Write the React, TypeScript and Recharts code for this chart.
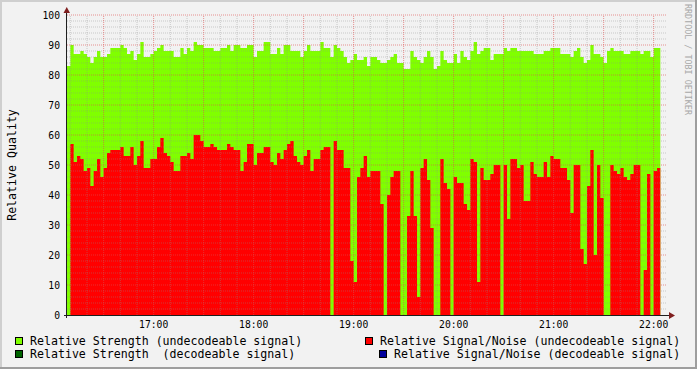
import { ComposedChart, Area, XAxis, YAxis, ReferenceLine } from 'recharts'

const MONO = '"DejaVu Sans Mono", monospace'

// one sample every 2 minutes, starting 16:08
const START_MIN = 968
const STEP_MIN = 2
const END_MIN = 1328

const STRENGTH = [
  83, 90, 87, 87, 88, 87, 86, 84, 86, 88,
  86, 86, 87, 89, 89, 89, 90, 89, 87, 88,
  85, 87, 91, 86, 86, 87, 88, 89, 90, 88,
  88, 88, 86, 86, 89, 87, 89, 88, 91, 90,
  90, 89, 89, 89, 88, 88, 89, 89, 90, 88,
  90, 90, 89, 89, 90, 90, 86, 88, 88, 91,
  91, 87, 87, 89, 87, 90, 90, 88, 88, 88,
  86, 88, 90, 88, 88, 88, 91, 89, 89, 86,
  90, 89, 88, 86, 84, 85, 87, 85, 85, 86,
  83, 86, 86, 85, 84, 84, 85, 86, 87, 84,
  84, 82, 82, 88, 86, 85, 84, 86, 88, 86,
  82, 83, 88, 85, 84, 84, 87, 84, 88, 86,
  85, 88, 91, 87, 88, 89, 89, 85, 87, 87,
  87, 89, 88, 89, 89, 88, 88, 88, 88, 88,
  87, 87, 87, 88, 88, 89, 89, 89, 87, 87,
  87, 86, 88, 89, 86, 84, 85, 90, 87, 87,
  86, 84, 88, 89, 88, 88, 88, 87, 87, 88,
  88, 88, 87, 88, 88, 86, 89, 89, 88,
]

const SNR = [
  0, 57, 51, 53, 52, 48, 49, 43, 48, 52,
  46, 49, 54, 55, 55, 55, 56, 53, 53, 56,
  50, 53, 58, 49, 49, 52, 52, 56, 59, 54,
  53, 51, 48, 48, 53, 53, 54, 52, 60, 60,
  58, 56, 56, 57, 56, 55, 55, 55, 57, 56,
  55, 55, 48, 51, 57, 57, 50, 54, 54, 56,
  56, 51, 50, 54, 52, 55, 57, 58, 53, 51,
  50, 53, 55, 48, 52, 52, 55, 56, 56, 0,
  58, 55, 55, 49, 49, 18, 11, 46, 49, 53,
  46, 48, 48, 48, 37, 0, 40, 46, 48, 48,
  0, 0, 33, 48, 33, 6, 49, 52, 45, 29,
  0, 0, 52, 44, 42, 0, 46, 44, 44, 37,
  35, 52, 51, 11, 49, 45, 45, 47, 50, 50,
  0, 50, 32, 52, 52, 49, 50, 38, 38, 51,
  47, 46, 46, 51, 46, 53, 52, 52, 49, 49,
  45, 34, 50, 50, 22, 17, 43, 55, 20, 50,
  39, 0, 0, 50, 48, 47, 49, 46, 45, 47,
  50, 50, 0, 15, 47, 0, 48, 49, 50,
]

const TIME_TICKS = [1020, 1080, 1140, 1200, 1260, 1320]
const VALUE_TICKS = [0, 10, 20, 30, 40, 50, 60, 70, 80, 90, 100]

// left column is left aligned, right column is right aligned (rrdtool \l and \r)
const LEGEND = [
  { label: 'Relative Strength (undecodeable signal)', color: '#80ff00', x: 15, y: 337 },
  { label: 'Relative Strength  (decodeable signal)', color: '#006400', x: 15, y: 350 },
  { label: 'Relative Signal/Noise (undecodeable signal)', color: '#ff0000', x: 365, y: 337 },
  { label: 'Relative Signal/Noise (decodeable signal)', color: '#00009c', x: 379, y: 350 },
]

const data = STRENGTH.map((s, i) => ({ t: START_MIN + i * STEP_MIN, strength: s, snr: SNR[i] }))

// rrdtool style grid: minor every 2 units / 10 min, major every 10 units / 30 min
const MAJOR_Y = VALUE_TICKS.filter((v) => v > 0)
const MINOR_Y = Array.from({ length: 49 }, (_, k) => 2 * k + 2).filter((v) => v % 10 !== 0)
const GRID_T = Array.from({ length: 36 }, (_, k) => 970 + 10 * k)
const MAJOR_T = GRID_T.filter((t) => t % 30 === 0)
const MINOR_T = GRID_T.filter((t) => t % 30 !== 0)

const MINOR_STYLE = { stroke: '#8f8f8f', strokeOpacity: 0.4, strokeDasharray: '1 1' }
const MAJOR_STYLE = { stroke: '#de4f4f', strokeOpacity: 0.6, strokeDasharray: '1 1' }

function fmtTime(m: number) {
  const h = Math.floor(m / 60)
  const mm = m % 60
  return `${String(h).padStart(2, '0')}:${String(mm).padStart(2, '0')}`
}

function YTick({ y, payload }: any) {
  return (
    <text x={60} y={y} dy={3.5} textAnchor="end" fontFamily={MONO} fontSize={9.7} fill="#000">
      {payload.value}
    </text>
  )
}

function XTick({ x, payload }: any) {
  return (
    <text x={x} y={328} textAnchor="middle" fontFamily={MONO} fontSize={9.7} fill="#000">
      {fmtTime(payload.value)}
    </text>
  )
}

export default function App() {
  return (
    <div
      style={{
        position: 'absolute',
        left: 0,
        top: 0,
        width: 697,
        height: 369,
        background: '#f2f2f2',
      }}
    >
      <ComposedChart width={697} height={369} data={data} margin={{ top: 15, right: 30, bottom: 0, left: 0 }}>
        <XAxis
          dataKey="t"
          type="number"
          domain={[START_MIN, END_MIN]}
          ticks={TIME_TICKS}
          height={54}
          axisLine={false}
          tickLine={false}
          tick={<XTick />}
          allowDataOverflow
        />
        <YAxis
          type="number"
          domain={[0, 100]}
          ticks={VALUE_TICKS}
          width={67}
          axisLine={false}
          tickLine={false}
          tick={<YTick />}
        />
        <Area
          dataKey="strength"
          type="stepAfter"
          fill="#80ff00"
          fillOpacity={1}
          stroke="none"
          dot={false}
          activeDot={false}
          isAnimationActive={false}
        />
        <Area
          dataKey="snr"
          type="stepAfter"
          fill="#ff0000"
          fillOpacity={1}
          stroke="none"
          dot={false}
          activeDot={false}
          isAnimationActive={false}
        />
        {MINOR_Y.map((v) => (
          <ReferenceLine key={'my' + v} y={v} {...MINOR_STYLE} />
        ))}
        {MINOR_T.map((t) => (
          <ReferenceLine key={'mt' + t} x={t} {...MINOR_STYLE} />
        ))}
        {MAJOR_Y.map((v) => (
          <ReferenceLine key={'My' + v} y={v} {...MAJOR_STYLE} />
        ))}
        {MAJOR_T.map((t) => (
          <ReferenceLine key={'Mt' + t} x={t} {...MAJOR_STYLE} />
        ))}
      </ComposedChart>

      <svg
        width={697}
        height={369}
        style={{ position: 'absolute', left: 0, top: 0, pointerEvents: 'none' }}
      >
        {/* frame shading */}
        <rect x={0} y={0} width={697} height={2} fill="#cfcfcf" />
        <rect x={0} y={0} width={2} height={369} fill="#cfcfcf" />
        <rect x={0} y={367} width={697} height={2} fill="#9e9e9e" />
        <rect x={695} y={0} width={2} height={369} fill="#9e9e9e" />

        {/* axes with arrows */}
        <line x1={66.5} y1={318} x2={66.5} y2={12} stroke="#1f1f1f" strokeWidth={1} />
        <line x1={64} y1={315.5} x2={670} y2={315.5} stroke="#1f1f1f" strokeWidth={1} />
        <polygon points="63.5,13 70,13 66.75,7" fill="#801f1f" />
        <polygon points="669,312 669,319 675,315.5" fill="#801f1f" />

        <text
          transform="translate(16,165) rotate(-90)"
          textAnchor="middle"
          fontFamily={MONO}
          fontSize={11.6}
          fill="#000"
        >
          Relative Quality
        </text>
        <text
          transform="translate(684.5,4) rotate(90)"
          fontFamily={MONO}
          fontSize={8.4}
          fill="#a8a8a8"
        >
          RRDTOOL / TOBI OETIKER
        </text>

        {LEGEND.map((l) => (
          <g key={l.label}>
            <rect x={l.x + 0.5} y={l.y + 0.5} width={7} height={7} fill={l.color} stroke="#000" />
            <text
              x={l.x + 15}
              y={l.y + 8}
              fontFamily={MONO}
              fontSize={11.6}
              fill="#000"
              style={{ whiteSpace: 'pre' }}
            >
              {l.label}
            </text>
          </g>
        ))}
      </svg>
    </div>
  )
}
